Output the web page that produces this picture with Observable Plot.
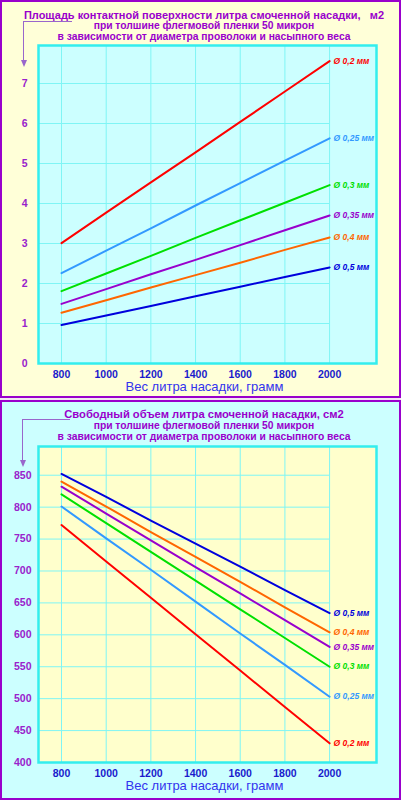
<!DOCTYPE html>
<html><head><meta charset="utf-8">
<script src="https://cdn.jsdelivr.net/npm/d3@7"></script>
<script src="https://cdn.jsdelivr.net/npm/@observablehq/plot@0.6"></script>
<style>
body{margin:0;background:#f2e6f2;font-family:Arial,"Liberation Sans",sans-serif;}
#root{position:relative;width:401px;height:800px;overflow:hidden;}
.panel{position:absolute;left:0;width:401px;box-sizing:border-box;border:2px solid #9900cc;}
.panel svg{position:absolute;left:0;top:0;}
.t{position:absolute;left:0;width:408px;text-align:center;font-weight:bold;color:#9900cc;white-space:pre;line-height:1;}
.ln{position:absolute;background:#9966cc;}
.head{position:absolute;width:0;height:0;border-left:3px solid transparent;border-right:3px solid transparent;border-top:7px solid #9966cc;}
</style>
</head><body><div id="root"></div>
<script>
// ---- data ----
const weights = [800, 1000, 1200, 1400, 1600, 1800, 2000];
const diameters = ["0,2", "0,25", "0,3", "0,35", "0,4", "0,5"];
const seriesColors = ["#ff0000", "#3399ff", "#00e000", "#9900cc", "#ff6600", "#0000dd"];

// Площадь контактной поверхности, м2
const area02  = [3.01, 3.77, 4.53, 5.28, 6.04, 6.80, 7.56];
const area025 = [2.26, 2.82, 3.38, 3.95, 4.51, 5.07, 5.63];
const area03  = [1.81, 2.25, 2.69, 3.14, 3.58, 4.02, 4.46];
const area035 = [1.49, 1.86, 2.23, 2.59, 2.96, 3.33, 3.70];
const area04  = [1.27, 1.58, 1.90, 2.21, 2.52, 2.84, 3.15];
const area05  = [0.96, 1.20, 1.44, 1.68, 1.92, 2.16, 2.40];
const areaTicks = [0, 1, 2, 3, 4, 5, 6, 7];

// Свободный объем, см2
const vol02  = [772, 715, 658, 601, 544, 487, 430];
const vol025 = [801, 751, 702, 652, 602, 553, 503];
const vol03  = [820, 775, 730, 685, 640, 595, 550];
const vol035 = [832, 790, 748, 706, 665, 623, 581];
const vol04  = [840, 801, 761, 722, 683, 643, 604];
const vol05  = [852, 816, 779, 743, 707, 670, 634];
const volTicks = [400, 450, 500, 550, 600, 650, 700, 750, 800, 850];

const title1 = ["Площадь контактной поверхности литра смоченной насадки,   м2",
  "при толшине флегмовой пленки 50 микрон",
  "в зависимости от диаметра проволоки и насыпного веса"];
const title2 = ["Свободный объем литра смоченной насадки, см2",
  "при толшине флегмовой пленки 50 микрон",
  "в зависимости от диаметра проволоки и насыпного веса"];
const xTitle = "Вес литра насадки, грамм";

function rows(list) {
  const out = [];
  list.forEach((vals, i) => vals.forEach((v, j) => out.push({d: diameters[i], w: weights[j], v})));
  return out;
}

const root = document.getElementById("root");

function makeChart(o) {
  const data = rows(o.series);
  const ends = data.filter(r => r.w === weights[weights.length - 1]);
  const xDomain = [697, 2210];
  return Plot.plot({
    width: 397, height: o.height,
    marginLeft: 36, marginRight: 23, marginTop: o.mt, marginBottom: o.mb,
    style: {background: "transparent", overflow: "visible", fontFamily: "Arial, 'Liberation Sans', sans-serif"},
    x: {domain: xDomain, axis: null},
    y: {domain: o.yDomain, axis: null},
    color: {domain: diameters, range: seriesColors},
    marks: [
      Plot.frame({fill: o.plotBg, stroke: null}),
      Plot.ruleX(weights, {x: d => d, stroke: "#7ff5f5", strokeWidth: 1}),
      Plot.ruleY(o.yTicks.slice(1), {y: d => d, x1: xDomain[0], x2: 2000, stroke: "#7ff5f5", strokeWidth: 1}),
      Plot.frame({stroke: "#33eeee", strokeWidth: 2.5}),
      Plot.line(data, {x: "w", y: "v", stroke: "d", strokeWidth: 2}),
      Plot.text(ends, {x: "w", y: "v", text: d => "Ø " + d.d + " мм", fill: "d", dx: 4, textAnchor: "start",
        fontSize: 8.5, fontWeight: "bold", fontStyle: "italic"}),
      Plot.text(weights, {x: d => d, frameAnchor: "bottom", dy: 14, text: d => String(d),
        fill: "#1a1acc", fontSize: 10.5, fontWeight: "bold"}),
      Plot.text(o.yTicks, {y: d => d, frameAnchor: "left", dx: o.yDx, text: d => String(d),
        textAnchor: "end", fill: "#9922cc", fontSize: 10.5, fontWeight: "bold"}),
      Plot.text([xTitle], {frameAnchor: "bottom", dy: 27, dx: -3, text: d => d, fill: "#3333ee", fontSize: 13})
    ]
  });
}

function addPanel(top, h, bg, chartOpts) {
  const p = document.createElement("div");
  p.className = "panel";
  p.style.top = top + "px"; p.style.height = h + "px"; p.style.background = bg;
  p.appendChild(makeChart(chartOpts));
  root.appendChild(p);
}

function addTitle(lines, tops, sizes) {
  lines.forEach((s, i) => {
    const d = document.createElement("div");
    d.className = "t"; d.textContent = s;
    d.style.top = tops[i] + "px"; d.style.fontSize = sizes[i] + "px";
    root.appendChild(d);
  });
}

function addArrow(x, y0, xEnd, y1) {
  const h = document.createElement("div"); h.className = "ln";
  h.style.left = x + "px"; h.style.top = y0 + "px"; h.style.width = (xEnd - x) + "px"; h.style.height = "1px";
  const v = document.createElement("div"); v.className = "ln";
  v.style.left = x + "px"; v.style.top = y0 + "px"; v.style.width = "1px"; v.style.height = (y1 - y0) + "px";
  const a = document.createElement("div"); a.className = "head";
  a.style.left = (x - 2.5) + "px"; a.style.top = (y1 - 2) + "px";
  root.append(h, v, a);
}

addPanel(0, 398, "#ffffd8", {
  height: 394, mt: 43, mb: 33, yDomain: [0, 7.95], yTicks: areaTicks,
  series: [area02, area025, area03, area035, area04, area05], plotBg: "#ccffff", yDx: -11
});
addPanel(400, 400, "#ccffff", {
  height: 396, mt: 44, mb: 36, yDomain: [400, 895], yTicks: volTicks,
  series: [vol02, vol025, vol03, vol035, vol04, vol05], plotBg: "#ffffcc", yDx: -7
});

addTitle(title1, [9.5, 21, 32], [11, 10.3, 10.3]);
addTitle(title2, [409, 421, 432], [11.2, 10.3, 10.3]);
addArrow(23, 21, 72, 62);
addArrow(22, 419, 70, 462);
</script>
</body></html>
